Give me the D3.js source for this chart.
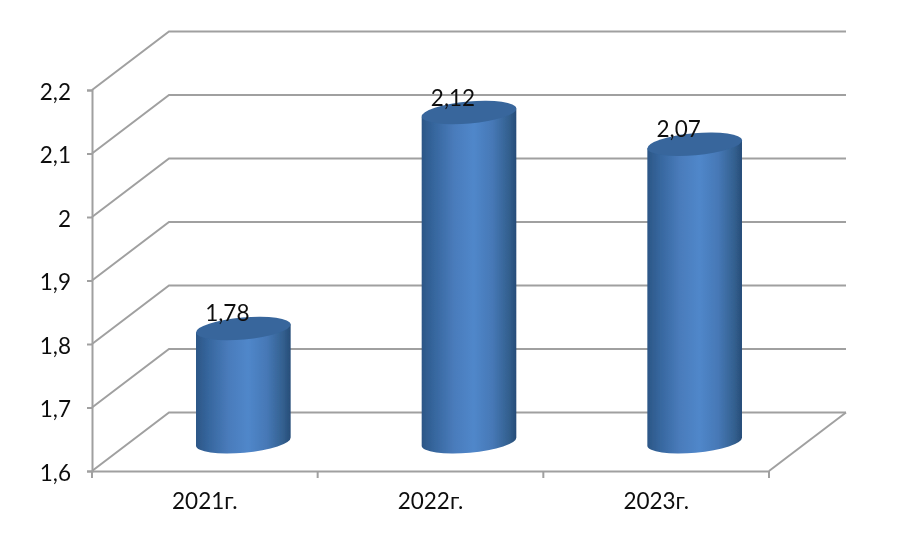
<!DOCTYPE html>
<html>
<head>
<meta charset="utf-8">
<script src="https://cdn.jsdelivr.net/npm/d3@7"></script>
<style>
  html, body { margin: 0; padding: 0; background: #fff; }
  text { font-family: Lato, "Open Sans", sans-serif; fill: #111; }
</style>
</head>
<body>
<div id="chart"></div>
<script>
// chart data
var categories = ["2021г.", "2022г.", "2023г."];
var values = [1.78, 2.12, 2.07];
var valueLabels = ["1,78", "2,12", "2,07"];
var yTicks = [1.6, 1.7, 1.8, 1.9, 2, 2.1, 2.2];
var yTickLabels = ["1,6", "1,7", "1,8", "1,9", "2", "2,1", "2,2"];

var width = 898, height = 538;

// front plane of the plot, the back wall sits depth away from it
var plot = { left: 92, right: 769, top: 90, bottom: 471 };
var depth = { x: 77, y: -58.5 };

// cylinder shape
var rx = 47.5, ry = 11, tilt = -5;
var tiltRad = tilt * Math.PI / 180;

var fontSize = "22.5px";

// set the ranges
var x = d3.scaleBand().domain(categories).range([plot.left, plot.right]);
var y = d3.scaleLinear().domain([1.6, 2.2]).range([plot.bottom, plot.top]);

var svg = d3.select("#chart").append("svg")
    .attr("width", width)
    .attr("height", height)
    .style("display", "block");

var defs = svg.append("defs");

// soft look of the scanned picture
defs.append("filter")
    .attr("id", "soft")
    .append("feGaussianBlur")
    .attr("stdDeviation", 0.4);

var gradient = defs.append("linearGradient")
    .attr("id", "barFill")
    .attr("x1", 0).attr("x2", 1).attr("y1", 0).attr("y2", 0);
[[0, "#2c5686"], [0.12, "#35659c"], [0.35, "#4a7cbc"], [0.55, "#5087ca"], [0.75, "#4678b6"], [0.92, "#33608f"], [1, "#274c78"]]
  .forEach(function(s) {
    gradient.append("stop").attr("offset", s[0]).attr("stop-color", s[1]);
  });

var root = svg.append("g").attr("filter", "url(#soft)");

// walls: grid lines on the side and on the back
var grid = root.append("g")
    .attr("stroke", "#a0a0a0")
    .attr("stroke-width", 2)
    .attr("fill", "none");

yTicks.forEach(function(t) {
  grid.append("polyline")
    .attr("points", [
      [plot.left, y(t)],
      [plot.left + depth.x, y(t) + depth.y],
      [plot.right + depth.x, y(t) + depth.y]
    ].join(" "));
});

// right edge of the floor
grid.append("polyline")
  .attr("points", [
    [plot.right, plot.bottom],
    [plot.right + depth.x, plot.bottom + depth.y]
  ].join(" "));

// axes
var axisY = d3.axisLeft(y)
    .tickValues(yTicks)
    .tickSize(5)
    .tickPadding(16)
    .tickFormat(function(d, i) { return yTickLabels[i]; });

var groupY = root.append("g")
    .attr("transform", "translate(" + plot.left + ",0)")
    .call(axisY);

groupY.selectAll("text").attr("dy", ".42em");

var axisX = d3.axisBottom(x)
    .tickSize(0)
    .tickPadding(22);

var groupX = root.append("g")
    .attr("transform", "translate(0," + plot.bottom + ")")
    .call(axisX);

// tick marks are between the categories
x.domain().concat(["end"]).forEach(function(c, i) {
  groupX.append("line")
    .attr("x1", plot.left + i * x.bandwidth())
    .attr("x2", plot.left + i * x.bandwidth())
    .attr("y1", 0)
    .attr("y2", 7);
});

root.selectAll(".domain, .tick line, g line")
    .attr("stroke", "#a0a0a0")
    .attr("stroke-width", 2);

root.selectAll(".tick text")
    .style("font-size", fontSize);

// cylinders stand half way into the depth
var barCx = function(c) { return x(c) + x.bandwidth() / 2 + depth.x / 2; };
var baseY = plot.bottom + depth.y / 2;
var topY = function(v) { return y(v) + depth.y / 2 + 1; };

var dx = rx * Math.cos(tiltRad);
var dy = rx * Math.sin(tiltRad);

var bars = root.selectAll(".bar")
    .data(values)
  .enter().append("g")
    .attr("class", "bar");

bars.append("path")
    .attr("fill", "url(#barFill)")
    .attr("d", function(d, i) {
      var cx = barCx(categories[i]);
      return "M" + (cx - dx) + "," + (topY(d) - dy) +
        "L" + (cx - dx) + "," + (baseY - dy) +
        "A" + rx + "," + ry + " " + tilt + " 0 0 " + (cx + dx) + "," + (baseY + dy) +
        "L" + (cx + dx) + "," + (topY(d) + dy) + "Z";
    });

bars.append("ellipse")
    .attr("fill", "#37669c")
    .attr("rx", rx)
    .attr("ry", ry)
    .attr("transform", function(d, i) {
      return "translate(" + barCx(categories[i]) + "," + topY(d) + ") rotate(" + tilt + ")";
    });

bars.append("text")
    .attr("text-anchor", "middle")
    .attr("x", function(d, i) { return barCx(categories[i]) - 16; })
    .attr("y", function(d) { return topY(d) - 7; })
    .style("font-size", fontSize)
    .text(function(d, i) { return valueLabels[i]; });
</script>
</body>
</html>
